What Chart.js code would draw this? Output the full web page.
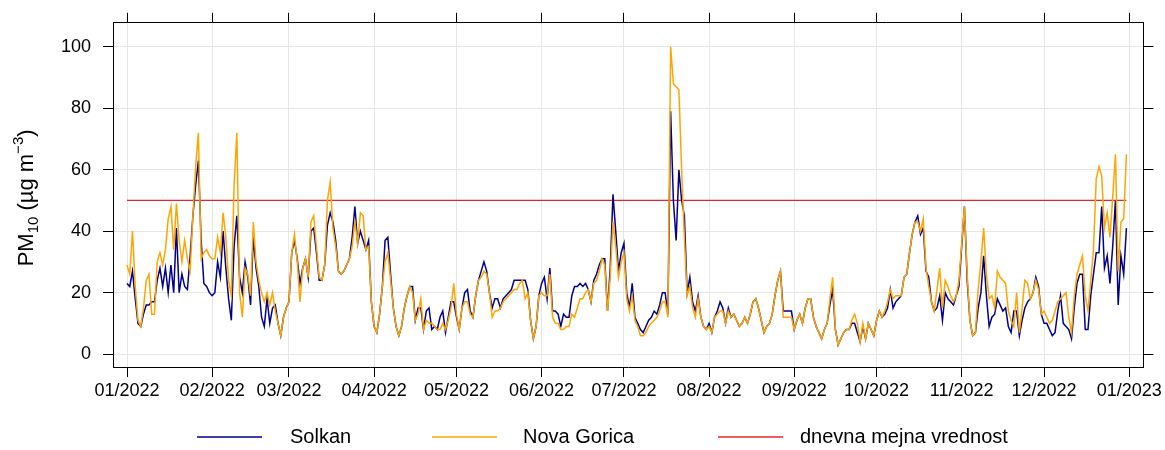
<!DOCTYPE html>
<html>
<head>
<meta charset="utf-8">
<script src="https://cdn.jsdelivr.net/npm/chart.js@4.4.1/dist/chart.umd.min.js"></script>
<style>
  html, body { margin: 0; padding: 0; background: #fff; }
  #wrap { width: 1165px; height: 450px; }
</style>
</head>
<body>
<div id="wrap"><canvas id="pmChart" width="1165" height="450"></canvas></div>
<script>
// daily PM10, 2022 (one value per day)
const solkan = [
  23,22,27,18,10,9,13,16,16,17,17,24,28,22,28,20,29,20,41,20,26,22,21,32,45,55,63,37,23,22,20,
  19,20,30,25,40,28,18,11,35,45,25,20,30,25,16,38,28,22,12,9,18,10,15,16,10,6,12,15,
  17,33,37,31,23,28,31,25,40,41,33,24,24,29,42,46,43,37,27,26,27,29,31,38,48,36,40,37,34,37,17,
  9,7,13,22,37,38,26,15,9,6,9,15,19,22,22,11,15,15,8,14,15,8,9,8,12,14,7,12,17,17,
  12,8,15,20,21,14,12,19,24,27,30,27,20,15,18,18,15,18,19,20,21,24,24,24,24,24,21,11,5,9,19,
  23,25,18,28,14,14,13,9,13,12,12,19,22,22,23,22,23,21,17,24,26,29,31,31,14,28,52,40,27,33,
  36,20,15,23,12,10,8,7,9,11,12,14,13,16,20,20,13,79,50,37,60,50,45,20,25,17,14,19,12,9,8,
  10,7,12,14,17,15,10,15,12,13,11,9,10,12,10,13,17,18,15,11,7,9,10,13,19,24,27,14,14,14,14,
  8,11,13,10,15,18,18,12,9,7,5,8,10,16,21,8,3,5,7,8,8,10,10,7,4,9,5,10,8,6,
  11,14,12,13,15,21,15,17,18,19,25,26,33,39,43,45,39,41,27,25,17,14,15,19,11,20,18,17,16,19,22,
  35,48,24,11,6,7,15,20,32,19,9,12,13,18,16,14,15,9,7,14,14,6,11,15,17,18,20,25,22,13,
  10,10,8,6,7,14,19,10,9,8,5,15,23,26,26,8,8,19,26,33,33,48,28,32,23,35,50,16,32,26,41
];
const novaGorica = [
  29,26,40,22,11,9,15,24,26,13,13,30,33,29,34,44,48,34,49,37,30,37,31,27,45,61,72,31,33,34,32,
  31,31,38,33,46,38,24,19,55,72,20,12,28,26,19,43,30,24,20,17,20,16,20,14,10,6,12,15,
  17,33,39,30,17,28,31,25,43,45,35,25,24,29,50,56,41,35,27,26,27,29,31,35,43,36,46,45,34,35,17,
  9,7,13,22,30,33,24,15,9,6,9,15,19,22,20,11,13,18,8,11,10,10,9,8,8,10,8,11,15,23,
  13,8,15,17,17,13,12,19,24,25,27,26,20,12,14,14,15,17,18,19,20,21,21,23,24,18,20,11,5,9,19,
  20,19,19,26,12,10,10,8,8,9,9,13,12,15,18,18,20,21,17,23,24,27,31,29,14,25,43,35,25,30,
  33,18,14,19,11,9,6,6,7,9,10,11,12,14,17,17,12,100,88,87,86,60,38,19,22,15,12,18,12,9,8,
  9,7,12,13,14,14,10,14,12,13,11,9,10,12,10,13,17,18,15,11,7,9,10,13,19,24,27,12,12,12,12,
  8,11,13,10,15,18,18,12,9,7,5,8,10,18,25,8,3,5,7,8,8,11,13,10,4,10,5,10,8,6,
  11,14,12,14,17,21,18,19,19,19,25,26,33,39,43,43,40,44,28,22,17,14,21,28,15,24,22,19,17,19,24,
  36,48,26,11,6,7,21,30,41,26,18,19,15,27,25,24,23,14,11,9,20,7,15,24,23,18,20,24,21,13,
  14,12,10,11,14,17,18,19,20,12,7,19,26,29,32,19,14,24,34,57,61,58,41,46,38,51,65,27,43,44,65
];
const limitValue = 50; // dnevna mejna vrednost
const monthStarts = [0, 31, 59, 90, 120, 151, 181, 212, 243, 273, 304, 334, 365];
const monthLabels = ['01/2022', '02/2022', '03/2022', '04/2022', '05/2022', '06/2022',
  '07/2022', '08/2022', '09/2022', '10/2022', '11/2022', '12/2022', '01/2023'];
const yTicks = [0, 20, 40, 60, 80, 100];
const seriesNames = ['Solkan', 'Nova Gorica', 'dnevna mejna vrednost'];
const seriesColors = ['#00008b', '#ffa500', '#e3262b'];

const FONT = 'Liberation Sans, Arial, sans-serif';
const xMin = -5.1, xMax = 370.2;
const yMin = -4.2, yMax = 107.8;

const toPoints = arr => arr.map((v, i) => ({ x: i, y: v }));

const monthTicks = scale => { scale.ticks = monthStarts.map(v => ({ value: v })); };
const valueTicks = scale => { scale.ticks = yTicks.map(v => ({ value: v })); };

// y title with subscript / superscript
const yTitle = {
  id: 'yTitle',
  afterDraw(chart) {
    const ctx = chart.ctx;
    const area = chart.chartArea;
    const parts = [
      { t: 'PM', size: 22, dy: 0 },
      { t: '10', size: 15, dy: 5 },
      { t: ' (\u00b5g m', size: 22, dy: 0 },
      { t: '\u22123', size: 15, dy: -10 },
      { t: ')', size: 22, dy: 0 }
    ];
    ctx.save();
    let total = 0;
    parts.forEach(p => {
      ctx.font = p.size + 'px ' + FONT;
      p.w = ctx.measureText(p.t).width;
      total += p.w;
    });
    ctx.translate(33, (area.top + area.bottom) / 2 + 3);
    ctx.rotate(-Math.PI / 2);
    ctx.fillStyle = '#000';
    ctx.textBaseline = 'alphabetic';
    let x = -total / 2;
    parts.forEach(p => {
      ctx.font = p.size + 'px ' + FONT;
      ctx.fillText(p.t, x, p.dy);
      x += p.w;
    });
    ctx.restore();
  }
};

// legend row under the plot
const bottomLegend = {
  id: 'bottomLegend',
  afterDraw(chart) {
    const ctx = chart.ctx;
    const y = 437;
    const lineStarts = [197, 432, 718];
    const textStarts = [290, 523, 800];
    ctx.save();
    ctx.font = '20px ' + FONT;
    ctx.textBaseline = 'middle';
    ctx.fillStyle = '#000';
    seriesNames.forEach((name, i) => {
      ctx.strokeStyle = seriesColors[i];
      ctx.lineWidth = 1.5;
      ctx.beginPath();
      ctx.moveTo(lineStarts[i], y);
      ctx.lineTo(lineStarts[i] + 65, y);
      ctx.stroke();
      ctx.fillText(name, textStarts[i], y);
    });
    ctx.restore();
  }
};

const tickFont = { family: FONT, size: 18 };

new Chart(document.getElementById('pmChart'), {
  type: 'line',
  data: {
    datasets: [
      {
        label: seriesNames[0],
        data: toPoints(solkan),
        borderColor: seriesColors[0],
        borderWidth: 1.5,
        pointRadius: 0,
        order: 1
      },
      {
        label: seriesNames[1],
        data: toPoints(novaGorica),
        borderColor: seriesColors[1],
        borderWidth: 1.5,
        pointRadius: 0,
        order: 0
      },
      {
        label: seriesNames[2],
        data: [{ x: 0, y: limitValue }, { x: solkan.length - 1, y: limitValue }],
        borderColor: seriesColors[2],
        borderWidth: 1.3,
        pointRadius: 0,
        order: 2
      }
    ]
  },
  options: {
    responsive: false,
    animation: false,
    layout: { padding: { top: 12, left: 0, right: 0, bottom: 0 } },
    plugins: {
      legend: { display: false },
      tooltip: { enabled: false },
      title: { display: false }
    },
    scales: {
      x: {
        type: 'linear',
        position: 'bottom',
        min: xMin,
        max: xMax,
        afterBuildTicks: monthTicks,
        afterFit: s => { s.height = 83; },
        ticks: {
          autoSkip: false,
          maxRotation: 0,
          padding: 3,
          color: '#000',
          font: tickFont,
          callback: v => monthLabels[monthStarts.indexOf(v)]
        },
        grid: { color: '#e6e6e6', tickColor: '#000', tickLength: 10 },
        border: { display: true, color: '#000', width: 1 }
      },
      xTop: {
        type: 'linear',
        position: 'top',
        min: xMin,
        max: xMax,
        afterBuildTicks: monthTicks,
        afterFit: s => { s.height = 10; },
        ticks: { display: false },
        grid: { drawOnChartArea: false, tickColor: '#000', tickLength: 10 },
        border: { display: true, color: '#000', width: 1 }
      },
      y: {
        type: 'linear',
        position: 'left',
        min: yMin,
        max: yMax,
        afterBuildTicks: valueTicks,
        afterFit: s => { s.width = 113; },
        ticks: { padding: 12, color: '#000', font: tickFont },
        grid: { color: '#e6e6e6', tickColor: '#000', tickLength: 10 },
        border: { display: true, color: '#000', width: 1 }
      },
      yRight: {
        type: 'linear',
        position: 'right',
        min: yMin,
        max: yMax,
        afterBuildTicks: valueTicks,
        afterFit: s => { s.width = 20; },
        ticks: { display: false },
        grid: { drawOnChartArea: false, tickColor: '#000', tickLength: 10 },
        border: { display: true, color: '#000', width: 1 }
      }
    }
  },
  plugins: [yTitle, bottomLegend]
});
</script>
</body>
</html>
